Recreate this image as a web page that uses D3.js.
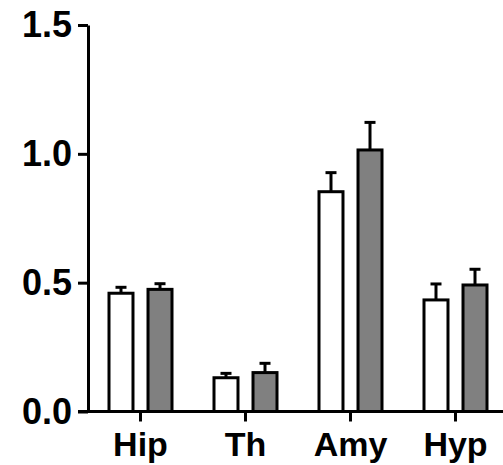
<!DOCTYPE html>
<html><head><meta charset="utf-8">
<script src="https://cdn.jsdelivr.net/npm/d3@7"></script>
<style>body{margin:0;background:#fff}</style>
</head><body>
<svg id="c" width="503" height="465"></svg>
<script>
const categories = ["Hip", "Th", "Amy", "Hyp"];
const series = ["control", "treated"];
const seriesColors = ["#ffffff", "#808080"];
const controlMeans = [0.459, 0.131, 0.853, 0.433];
const controlErr   = [0.023, 0.017, 0.074, 0.062];
const treatedMeans = [0.474, 0.151, 1.015, 0.491];
const treatedErr   = [0.022, 0.036, 0.107, 0.061];
const yTicks = [0, 0.5, 1.0, 1.5];

const means = [controlMeans, treatedMeans];
const errs = [controlErr, treatedErr];
const data = [];
categories.forEach((c, i) => series.forEach((s, j) => data.push({cat: c, s, si: j, v: means[j][i], e: errs[j][i]})));

const svg = d3.select("#c");
const x = d3.scaleBand().domain(categories).range([88, 508]).padding(0);
const xs = d3.scaleBand().domain(series).range([21, 84]).paddingInner(0.385).paddingOuter(0);
const y = d3.scaleLinear().domain([0, 1.5]).range([411.5, 25]);

// bars
const g = svg.append("g");
g.selectAll("rect").data(data).join("rect")
  .attr("x", d => x(d.cat) + xs(d.s))
  .attr("y", d => y(d.v))
  .attr("width", xs.bandwidth())
  .attr("height", d => y(0) - y(d.v))
  .attr("fill", d => seriesColors[d.si])
  .attr("stroke", "#000").attr("stroke-width", 3);

// error bars
const eb = g.selectAll("g.eb").data(data).join("g").attr("class", "eb")
  .attr("stroke", "#000").attr("stroke-width", 3);
eb.append("line")
  .attr("x1", d => x(d.cat) + xs(d.s) + xs.bandwidth() / 2)
  .attr("x2", d => x(d.cat) + xs(d.s) + xs.bandwidth() / 2)
  .attr("y1", d => y(d.v)).attr("y2", d => y(d.v + d.e));
eb.append("line")
  .attr("x1", d => x(d.cat) + xs(d.s) + xs.bandwidth() / 2 - 5.5)
  .attr("x2", d => x(d.cat) + xs(d.s) + xs.bandwidth() / 2 + 5.5)
  .attr("y1", d => y(d.v + d.e)).attr("y2", d => y(d.v + d.e));

// y axis
const ya = svg.append("g").attr("transform", "translate(88,0)")
  .call(d3.axisLeft(y).tickValues(yTicks).tickFormat(d3.format(".1f")).tickSize(10).tickSizeOuter(0).tickPadding(6));
ya.select(".domain").attr("stroke-width", 3);
ya.selectAll(".tick line").attr("stroke-width", 3);
ya.selectAll(".tick text").attr("font-family", "Liberation Sans, Arial, sans-serif")
  .attr("font-weight", "bold").attr("font-size", 36).attr("fill", "#000");

// x axis
const xa = svg.append("g").attr("transform", "translate(0,411.5)")
  .call(d3.axisBottom(x).tickSize(10).tickSizeOuter(0).tickPadding(10));
xa.select(".domain").attr("stroke-width", 3).attr("d", "M78,0H503");
xa.selectAll(".tick line").attr("stroke-width", 3);
xa.selectAll(".tick text").attr("font-family", "Liberation Sans, Arial, sans-serif")
  .attr("font-weight", "bold").attr("font-size", 34).attr("fill", "#000");
</script>
</body></html>
